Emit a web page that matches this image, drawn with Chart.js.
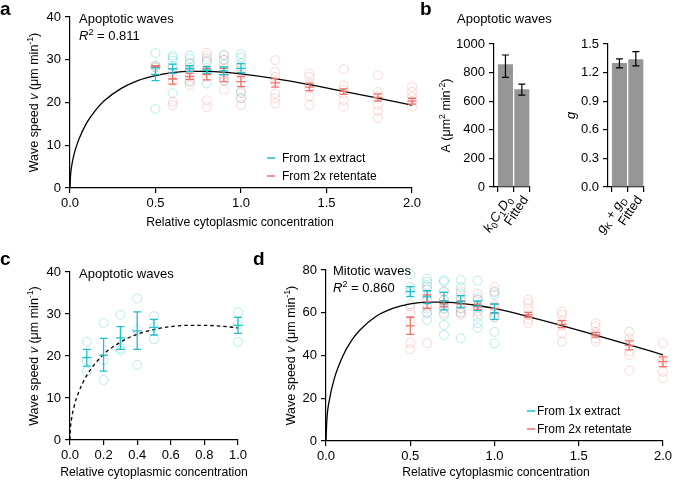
<!DOCTYPE html>
<html>
<head>
<meta charset="utf-8">
<script src="https://cdn.jsdelivr.net/npm/chart.js@4"></script>
<style>
  body { margin: 0; background: #fff; }
  #fig { position: relative; width: 675px; height: 482px; background: #fff; overflow: hidden; }
  #fig canvas { position: absolute; }
  .lab { position: absolute; font: bold 19px "Liberation Sans", Arial, sans-serif; line-height: 19px; }
</style>
</head>
<body>
<div id="fig">
  <canvas id="ca" width="425" height="235" style="left:0;top:0"></canvas>
  <canvas id="cb1" width="140" height="240" style="left:425px;top:0"></canvas>
  <canvas id="cb2" width="125" height="240" style="left:550px;top:0"></canvas>
  <canvas id="cc" width="250" height="242" style="left:0;top:240px"></canvas>
  <canvas id="cd" width="425" height="242" style="left:250px;top:240px"></canvas>
  <div class="lab" style="left:0;top:-1px">a</div>
  <div class="lab" style="left:420px;top:-1px">b</div>
  <div class="lab" style="left:0;top:249px">c</div>
  <div class="lab" style="left:253px;top:249px">d</div>
</div>
<script>
// ---- panel a : apoptotic waves
const aCyanX = [0.5, 0.6, 0.7, 0.8, 0.9, 1.0];
const aCyanPts = [[31.6, 28.6, 28.2, 18.5], [31.0, 30.5, 29.8, 28.5, 22.2], [31.0, 30.2, 29.2, 28.2, 25.0],
  [30.2, 29.6, 27.5, 24.5], [31.0, 30.0, 28.8, 26.0, 25.2], [31.3, 30.5, 29.2, 28.0, 22.5, 21.0]];
const aCyanMean = [26.6, 27.9, 27.9, 27.6, 27.4, 28.0];
const aCyanLo = [25.1, 26.8, 27.2, 26.8, 26.5, 27.0];
const aCyanHi = [28.1, 29.0, 28.6, 28.4, 28.3, 29.1];

const aRedX = [0.5, 0.6, 0.7, 0.8, 0.9, 1.0, 1.2, 1.4, 1.6, 1.8, 2.0];
const aRedPts = [[28.6, 28.2], [28.0, 26.5, 25.0, 20.2, 19.4], [29.0, 27.5, 26.0, 24.9, 24.1],
  [31.6, 30.8, 29.5, 27.2, 26.0, 20.5, 18.9], [31.2, 30.0, 28.0, 26.5, 25.0, 23.0],
  [28.5, 26.5, 25.0, 22.2, 21.0, 19.4], [29.9, 27.2, 26.0, 24.8, 22.1, 21.0, 19.8],
  [26.8, 26.0, 24.5, 23.5, 21.5, 19.4], [27.8, 24.0, 23.0, 22.0, 20.5, 19.0],
  [26.4, 22.5, 21.5, 19.5, 18.0, 16.4], [23.7, 22.5, 21.4, 20.2, 19.0]];
const aRedMean = [28.4, 25.5, 26.1, 26.6, 26.5, 24.9, 24.6, 23.6, 22.6, 21.2, 20.3];
const aRedLo = [28.2, 24.3, 25.4, 25.3, 24.9, 23.7, 23.6, 22.8, 21.9, 20.3, 19.6];
const aRedHi = [28.6, 26.8, 26.8, 28.0, 28.0, 26.1, 25.6, 24.5, 23.2, 22.0, 21.0];

const fitAX = [0, 0.002, 0.01, 0.025, 0.05, 0.1, 0.15, 0.2, 0.3, 0.4, 0.5, 0.6, 0.7, 0.8, 0.9, 1.0, 1.2, 1.4, 1.6, 1.8, 2.0];
const fitAY = [0, 2.3, 5.2, 8.1, 11.2, 15.4, 18.2, 20.4, 23.3, 25.2, 26.3, 27.0, 27.3, 27.3, 27.1, 26.7, 25.6, 24.2, 22.6, 21.0, 19.4];

// ---- panel b : bars
const bCatsA = ['k0C1D0', 'Fitted'];
const bValsA = [858, 683];
const bLoA = [767, 643];
const bHiA = [923, 720];
const bCatsG = ['gK+gD', 'Fitted'];
const bValsG = [1.30, 1.34];
const bLoG = [1.25, 1.27];
const bHiG = [1.345, 1.42];

// ---- panel c : low concentrations
const cX = [0.1, 0.2, 0.3, 0.4, 0.5, 1.0];
const cPts = [[23.4, 19.0, 16.3], [27.8, 19.0, 14.3], [29.8, 21.8, 21.3], [33.7, 26.2, 17.9], [29.5, 26.8, 24.0], [30.4, 27.5, 23.4]];
const cMean = [19.6, 20.2, 24.3, 26.0, 26.8, 27.3];
const cLo = [17.6, 16.4, 21.6, 21.6, 25.0, 25.4];
const cHi = [21.6, 24.2, 27.0, 30.5, 28.7, 29.2];
const fitCX = [0, 0.002, 0.01, 0.025, 0.05, 0.1, 0.15, 0.2, 0.3, 0.4, 0.5, 0.6, 0.7, 0.8, 0.9, 1.0];
const fitCY = [0, 2.3, 5.2, 8.1, 11.2, 15.4, 18.2, 20.4, 23.3, 25.2, 26.3, 27.0, 27.3, 27.3, 27.1, 26.7];

// ---- panel d : mitotic waves
const dCyanX = [0.5, 0.6, 0.7, 0.8, 0.9, 1.0];
const dCyanPts = [[78, 72, 70, 64], [76, 74.5, 73, 71, 62, 59.7, 56.6], [75.3, 74.5, 70, 66, 62, 59, 54.3, 49.6],
  [75.3, 72, 69, 66, 62, 60, 48], [75, 67, 66, 63, 58.2, 55.1, 53], [69.6, 68.5, 63, 58, 51.1, 45.7]];
const dCyanMean = [69.9, 67.4, 65.4, 65.2, 63.2, 59.8];
const dCyanLo = [67.5, 64.4, 61.3, 62.4, 61.0, 56.9];
const dCyanHi = [72.2, 70.3, 69.6, 68.0, 65.5, 64.1];

const dRedX = [0.5, 0.6, 0.7, 0.8, 0.9, 1.0, 1.2, 1.4, 1.6, 1.8, 2.0];
const dRedPts = [[63, 60, 56, 46, 43], [72, 68, 66, 63, 60, 45.7], [70, 66, 64, 62, 60], [70, 67, 64, 62, 60, 59],
  [69, 66, 63, 61, 60], [72, 70, 64, 60, 58], [66, 64.4, 62, 59, 57, 55.1], [60.5, 59, 56, 54, 50.4, 46.5],
  [55.1, 53.5, 51, 50, 48, 46.5], [51.1, 48, 46, 42, 40.2, 32.9], [45.7, 38, 36.3, 32.4, 29.3]];
const dRedMean = [53.9, 65.2, 64.2, 64.0, 62.8, 62.0, 59.0, 54.6, 49.6, 44.7, 37.1];
const dRedLo = [49.9, 62.1, 62.8, 62.5, 61.5, 60.0, 57.9, 53.0, 48.6, 42.6, 34.8];
const dRedHi = [57.9, 68.3, 65.5, 65.5, 64.0, 64.0, 60.2, 56.3, 50.8, 46.8, 39.4];

const fitDX = [0, 0.005, 0.02, 0.05, 0.1, 0.15, 0.2, 0.3, 0.4, 0.5, 0.6, 0.7, 0.8, 0.9, 1.0, 1.2, 1.4, 1.6, 1.8, 2.0];
const fitDY = [0, 9.7, 19.1, 29.4, 39.8, 46.8, 51.8, 58.5, 62.2, 64.2, 65.0, 65.0, 64.4, 63.4, 62.0, 58.2, 54.0, 49.5, 45.0, 40.3];

// ---- look
const FONT = '"Liberation Sans", Arial, Helvetica, sans-serif';
const CYAN = '#1cc0ca', RED = '#f3716b';
const CYAN_PT = 'rgba(28,192,202,0.3)', RED_PT = 'rgba(243,113,107,0.27)';
Chart.defaults.font.family = FONT;
Chart.defaults.font.size = 13;
Chart.defaults.color = '#000';

// rich text: segments are [text, style] ; style may hold i (italic), ^ (sup), _ (sub)
function fontFor(st, size) {
  const small = st.includes('^') || st.includes('_');
  return (st.includes('i') ? 'italic ' : '') + (small ? size * 0.7 : size) + 'px ' + FONT;
}
function drawRich(ctx, segs, x, y, size, align, rot) {
  ctx.save();
  ctx.translate(x, y);
  ctx.rotate(rot || 0);
  ctx.textAlign = 'left';
  ctx.textBaseline = 'alphabetic';
  ctx.fillStyle = '#000';
  let w = 0;
  const ws = segs.map(([t, st = '']) => { ctx.font = fontFor(st, size); const m = ctx.measureText(t).width; w += m; return m; });
  let cx = align === 'center' ? -w / 2 : align === 'right' ? -w : 0;
  segs.forEach(([t, st = ''], i) => {
    ctx.font = fontFor(st, size);
    const dy = st.includes('^') ? -size * 0.38 : st.includes('_') ? size * 0.22 : 0;
    ctx.fillText(t, cx, size * 0.36 + dy);
    cx += ws[i];
  });
  ctx.restore();
}

const richLabels = {
  'k0C1D0': [['k', 'i'], ['0', '_'], ['C', 'i'], ['1', '_'], ['D', 'i'], ['0', '_']],
  'gK+gD': [['g', 'i'], ['K', '_'], [' + '], ['g', 'i'], ['D', '_']],
  'Fitted': [['Fitted']]
};
const waveTitle = [['Wave speed '], ['v', 'i'], [' (μm min'], ['-1', '^'], [')']];
const relConc = [['Relative cytoplasmic concentration']];

function notesPlugin(id, items, xLabels) {
  return {
    id: id,
    afterDraw(chart) {
      const ctx = chart.ctx;
      items.forEach(it => {
        if (it.dash) {
          ctx.save();
          ctx.strokeStyle = it.dash; ctx.lineWidth = 1.5;
          ctx.beginPath(); ctx.moveTo(it.x, it.y); ctx.lineTo(it.x + 8, it.y); ctx.stroke();
          ctx.restore();
        } else {
          drawRich(ctx, it.segs, it.x, it.y, it.size || 13, it.align || 'left', it.rot || 0);
        }
      });
      if (xLabels) {
        const xs = chart.scales.x, bottom = chart.chartArea.bottom;
        xLabels.forEach((name, i) => {
          drawRich(ctx, richLabels[name], xs.getPixelForValue(i) + 3, bottom + 10, 13, 'right', -56 * Math.PI / 180);
        });
      }
    }
  };
}

function errPlugin(id, sets) {
  return {
    id: id,
    afterDatasetsDraw(chart) {
      const { ctx, scales: { x, y } } = chart;
      sets.forEach(s => {
        ctx.save();
        ctx.strokeStyle = s.color; ctx.lineWidth = s.lw || 1.3;
        s.xs.forEach((xv, i) => {
          const px = x.getPixelForValue(xv);
          const t = y.getPixelForValue(s.hi[i]), b = y.getPixelForValue(s.lo[i]);
          const h = s.cap / 2;
          ctx.beginPath();
          ctx.moveTo(px, t); ctx.lineTo(px, b);
          ctx.moveTo(px - h, t); ctx.lineTo(px + h, t);
          ctx.moveTo(px - h, b); ctx.lineTo(px + h, b);
          if (s.mean) {
            const m = y.getPixelForValue(s.mean[i]);
            ctx.moveTo(px - h - 0.5, m); ctx.lineTo(px + h + 0.5, m);
          }
          ctx.stroke();
        });
        ctx.restore();
      });
    }
  };
}

const gridCfg = { drawOnChartArea: false, drawTicks: true, tickLength: 5, color: '#000', lineWidth: 1.2 };
const borderCfg = { color: '#000', width: 1.2 };

function points(xs, groups) {
  const out = [];
  xs.forEach((x, i) => groups[i].forEach(v => out.push({ x: x, y: v })));
  return out;
}
function curve(xs, ys) { return xs.map((x, i) => ({ x: x, y: ys[i] })); }

function scatterChart(id, o) {
  const datasets = [{
    data: curve(o.fitX, o.fitY), showLine: true, borderColor: '#000', borderWidth: 1.3,
    borderDash: o.dashed ? [3.5, 3] : [], pointRadius: 0, cubicInterpolationMode: 'monotone', order: 0
  }];
  o.groups.forEach(g => datasets.push({
    data: points(g.xs, g.pts), pointRadius: 4.5, pointBorderWidth: 1, borderColor: g.ptColor,
    backgroundColor: 'rgba(0,0,0,0)', order: 2, clip: false
  }));
  new Chart(document.getElementById(id), {
    type: 'scatter',
    data: { datasets: datasets },
    options: {
      responsive: false, animation: false, events: [],
      layout: { autoPadding: false, padding: o.pad },
      plugins: { legend: { display: false }, tooltip: { enabled: false } },
      scales: {
        x: {
          type: 'linear', min: 0, max: o.xMax,
          ticks: { stepSize: o.xStep, padding: 3, maxRotation: 0, callback: v => v.toFixed(1) },
          grid: gridCfg, border: borderCfg, afterFit: s => { s.height = o.xH; }
        },
        y: {
          min: 0, max: o.yMax,
          ticks: { stepSize: o.yStep, padding: 4 },
          grid: gridCfg, border: borderCfg, afterFit: s => { s.width = o.yW; }
        }
      }
    },
    plugins: [
      errPlugin('err_' + id, o.groups.map(g => ({ xs: g.xs, mean: g.mean, lo: g.lo, hi: g.hi, color: g.color, cap: 8 }))),
      notesPlugin('notes_' + id, o.notes)
    ]
  });
}

function barChart(id, cats, vals, lo, hi, o) {
  new Chart(document.getElementById(id), {
    type: 'bar',
    data: { datasets: [{ data: vals.map((v, i) => ({ x: i, y: v })), backgroundColor: '#969696', barPercentage: 0.92, categoryPercentage: 1 }] },
    options: {
      responsive: false, animation: false, events: [],
      layout: { autoPadding: false, padding: { left: 0, right: o.padRight, top: 44, bottom: 0 } },
      plugins: { legend: { display: false }, tooltip: { enabled: false } },
      scales: {
        x: {
          type: 'linear', min: -0.7, max: 1.5, offset: false,
          afterBuildTicks: s => { s.ticks = cats.map((c, i) => ({ value: i })); },
          ticks: { color: 'rgba(0,0,0,0)' },
          grid: gridCfg, border: borderCfg, afterFit: s => { s.height = 53; }
        },
        y: {
          min: 0, max: o.yMax,
          ticks: { stepSize: o.yStep, padding: 4, callback: o.fmt },
          grid: gridCfg, border: borderCfg, afterFit: s => { s.width = o.yW; }
        }
      }
    },
    plugins: [
      errPlugin('err_' + id, [{ xs: cats.map((c, i) => i), lo: lo, hi: hi, color: '#000', cap: 7, lw: 1.2 }]),
      notesPlugin('notes_' + id, o.notes, cats)
    ]
  });
}

// a
scatterChart('ca', {
  fitX: fitAX, fitY: fitAY, xMax: 2, xStep: 0.5, yMax: 40, yStep: 10,
  pad: { left: 0, right: 13, top: 17, bottom: 0 }, xH: 47, yW: 70,
  groups: [
    { xs: aRedX, pts: aRedPts, mean: aRedMean, lo: aRedLo, hi: aRedHi, color: RED, ptColor: RED_PT },
    { xs: aCyanX, pts: aCyanPts, mean: aCyanMean, lo: aCyanLo, hi: aCyanHi, color: CYAN, ptColor: CYAN_PT }
  ],
  notes: [
    { segs: [['Apoptotic waves']], x: 79, y: 18 },
    { segs: [['R', 'i'], ['2', '^'], [' = 0.811']], x: 79, y: 35 },
    { segs: waveTitle, x: 33, y: 102.5, size: 12.5, align: 'center', rot: -Math.PI / 2 },
    { segs: relConc, x: 240, y: 222, size: 12.2, align: 'center' },
    { dash: CYAN, x: 267, y: 158 },
    { segs: [['From 1x extract']], x: 282, y: 158, size: 12 },
    { dash: RED, x: 267, y: 176 },
    { segs: [['From 2x retentate']], x: 282, y: 176, size: 12 }
  ]
});

// b (left canvas is wider so the heading is not cut; its chart area stays 494..530)
barChart('cb1', bCatsA, bValsA, bLoA, bHiA, {
  yMax: 1000, yStep: 200, yW: 69, padRight: 35, fmt: v => v,
  notes: [
    { segs: [['Apoptotic waves']], x: 32, y: 18 },
    { segs: [['A (μm'], ['2', '^'], [' min'], ['-2', '^'], [')']], x: 20, y: 115.5, size: 12.5, align: 'center', rot: -Math.PI / 2 }
  ]
});
barChart('cb2', bCatsG, bValsG, bLoG, bHiG, {
  yMax: 1.5, yStep: 0.3, yW: 58, padRight: 31, fmt: v => v.toFixed(1),
  notes: [
    { segs: [['g', 'i']], x: 20, y: 115.5, size: 13, align: 'center', rot: -Math.PI / 2 }
  ]
});

// c
scatterChart('cc', {
  fitX: fitCX, fitY: fitCY, dashed: true, xMax: 1, xStep: 0.2, yMax: 40, yStep: 10,
  pad: { left: 0, right: 12, top: 32, bottom: 0 }, xH: 42, yW: 70,
  groups: [
    { xs: cX, pts: cPts, mean: cMean, lo: cLo, hi: cHi, color: CYAN, ptColor: CYAN_PT }
  ],
  notes: [
    { segs: [['Apoptotic waves']], x: 79, y: 33 },
    { segs: waveTitle, x: 33, y: 116, size: 12.5, align: 'center', rot: -Math.PI / 2 },
    { segs: relConc, x: 154, y: 232, size: 12.2, align: 'center' }
  ]
});

// d
scatterChart('cd', {
  fitX: fitDX, fitY: fitDY, xMax: 2, xStep: 0.5, yMax: 80, yStep: 20,
  pad: { left: 0, right: 9, top: 30, bottom: 0 }, xH: 41, yW: 76,
  groups: [
    { xs: dRedX, pts: dRedPts, mean: dRedMean, lo: dRedLo, hi: dRedHi, color: RED, ptColor: RED_PT },
    { xs: dCyanX, pts: dCyanPts, mean: dCyanMean, lo: dCyanLo, hi: dCyanHi, color: CYAN, ptColor: CYAN_PT }
  ],
  notes: [
    { segs: [['Mitotic waves']], x: 83, y: 30.5 },
    { segs: [['R', 'i'], ['2', '^'], [' = 0.860']], x: 83, y: 47 },
    { segs: waveTitle, x: 40, y: 115.5, size: 12.5, align: 'center', rot: -Math.PI / 2 },
    { segs: relConc, x: 246, y: 232, size: 12.2, align: 'center' },
    { dash: CYAN, x: 277, y: 171 },
    { segs: [['From 1x extract']], x: 287, y: 171, size: 12 },
    { dash: RED, x: 277, y: 189 },
    { segs: [['From 2x retentate']], x: 287, y: 189, size: 12 }
  ]
});
</script>
</body>
</html>
